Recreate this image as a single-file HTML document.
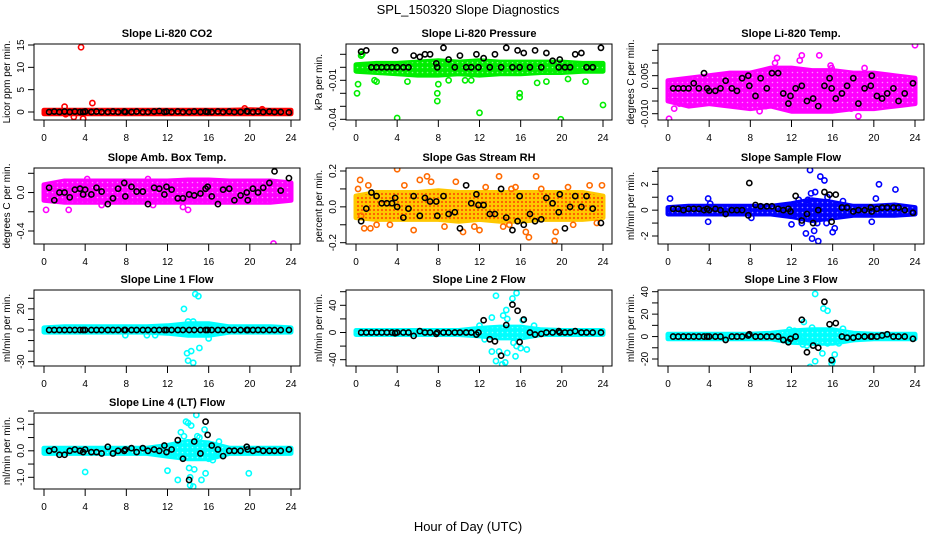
<!DOCTYPE html>
<html><head><meta charset="utf-8"><title>SPL_150320 Slope Diagnostics</title>
<style>html,body{margin:0;padding:0;background:#fff}svg{display:block}text{font-family:"Liberation Sans",Arial,sans-serif}</style>
</head><body>
<svg id="chart" width="936" height="540" viewBox="0 0 936 540" xmlns="http://www.w3.org/2000/svg">
<defs>
<pattern id="speck" width="5" height="5" patternUnits="userSpaceOnUse"><circle cx="2.5" cy="2.5" r="0.8" fill="#fff" fill-opacity="0.55"/></pattern>
<pattern id="speckRed" width="4" height="4" patternUnits="userSpaceOnUse"><circle cx="2" cy="2" r="1.1" fill="#ff2a00" fill-opacity="0.7"/></pattern>
</defs>
<rect width="936" height="540" fill="#fff"/>
<text x="468" y="14" font-size="13" text-anchor="middle">SPL_150320  Slope Diagnostics</text>
<text x="468" y="531" font-size="13" text-anchor="middle">Hour of Day (UTC)</text>
</svg>
<script>
const xTicks = [0,4,8,12,16,20,24];
const bandHours = [0,2,4,6,8,10,12,14,16,18,20,22,24];
const blackHours = [0.5,1.0,1.5,2.0,2.5,3.0,3.5,3.8,4.0,4.6,5.1,5.6,6.2,6.7,7.2,7.8,7.9,8.5,9.0,9.6,10.1,10.7,11.2,11.7,11.9,12.4,13.0,13.5,14.1,14.6,15.2,15.7,15.9,16.3,16.9,17.4,18.0,18.5,19.1,19.7,19.8,20.3,20.8,21.3,21.9,22.4,23.0,23.8];

const titles = ["Slope Li-820 CO2","Slope Li-820 Pressure","Slope Li-820 Temp.","Slope Amb. Box Temp.","Slope Gas Stream RH","Slope Sample Flow","Slope Line 1 Flow","Slope Line 2 Flow","Slope Line 3 Flow","Slope Line 4 (LT) Flow"];
const yLabels = ["Licor ppm per min.","kPa per min.","degrees C per min.","degrees C per min.","percent per min.","ml/min per min.","ml/min per min.","ml/min per min.","ml/min per min.","ml/min per min."];
const colors = ["#ff0000","#00ee00","#ff00ff","#ff00ff","#ffc800","#0000ff","#00ffff","#00ffff","#00ffff","#00ffff"];
const ptColors = ["#ff0000","#00ee00","#ff00ff","#ff00ff","#ff6a00","#0000ff","#00ffff","#00ffff","#00ffff","#00ffff"];

const yTicks = [[0,5,10,15],[-0.04,-0.03,-0.02,-0.01,0,0.01],[-0.01,-0.005,0,0.005,0.01,0.015],[-0.4,-0.2,0,0.2],[-0.2,-0.1,0,0.1,0.2],[-2,-1,0,1,2,3],[-30,-20,-10,0,10,20,30],[-40,-20,0,20,40,60],[-20,-10,0,10,20,30,40],[-1,-0.5,0,0.5,1,1.5]];
const yTickLabels = [["0","5","10","15"],["-0.04","","","-0.01","",""],["-0.010","","","0.005","",""],["-0.4","","0.0",""],["-0.2","","0.0","","0.2"],["-2","","0","","2",""],["-30","","","0","","20",""],["-40","","0","","40",""],["-20","","0","","20","","40"],["-1.0","","0.0","","1.0",""]];
const yRefVals = [[0,15],[-0.04,0.01],[-0.01,0.01],[-0.4,0.2],[-0.2,0.2],[-2,2],[-30,30],[-40,40],[-20,40],[-1,1]];

const bandLo = [
 [-0.4,-0.4,-0.4,-0.4,-0.4,-0.4,-0.4,-0.4,-0.4,-0.4,-0.4,-0.4,-0.4],
 [-0.003,-0.004,-0.005,-0.006,-0.006,-0.005,-0.006,-0.005,-0.005,-0.004,-0.004,-0.003,-0.003],
 [-0.005,-0.007,-0.006,-0.007,-0.008,-0.007,-0.009,-0.009,-0.009,-0.008,-0.008,-0.007,-0.006],
 [-0.08,-0.1,-0.1,-0.1,-0.1,-0.1,-0.1,-0.1,-0.1,-0.1,-0.1,-0.1,-0.08],
 [-0.06,-0.07,-0.07,-0.07,-0.07,-0.08,-0.07,-0.08,-0.08,-0.07,-0.07,-0.07,-0.06],
 [-0.3,-0.3,-0.3,-0.3,-0.3,-0.3,-0.5,-0.8,-0.6,-0.4,-0.4,-0.4,-0.3],
 [-2,-2,-2,-2,-2,-2,-3,-5,-5,-2,-2,-2,-2],
 [-3,-3,-3,-3,-3,-3,-5,-8,-8,-3,-3,-3,-3],
 [-2,-2,-2,-2,-2,-2,-5,-6,-6,-3,-2,-2,-2],
 [-0.1,-0.1,-0.1,-0.1,-0.1,-0.1,-0.2,-0.3,-0.3,-0.1,-0.1,-0.1,-0.1]];
const bandHi = [
 [0.4,0.4,0.4,0.4,0.4,0.4,0.4,0.4,0.4,0.4,0.5,0.4,0.4],
 [0.002,0.003,0.003,0.004,0.005,0.004,0.005,0.004,0.004,0.004,0.004,0.003,0.003],
 [0.003,0.004,0.005,0.006,0.006,0.008,0.008,0.007,0.007,0.006,0.006,0.005,0.004],
 [0.08,0.12,0.12,0.12,0.12,0.12,0.12,0.13,0.13,0.12,0.12,0.12,0.1],
 [0.06,0.08,0.08,0.08,0.09,0.08,0.08,0.08,0.08,0.08,0.08,0.08,0.06],
 [0.2,0.3,0.3,0.3,0.3,0.3,0.5,0.8,0.6,0.3,0.3,0.4,0.2],
 [2,3,3,3,3,3,4,6,6,3,3,3,2],
 [3,3,3,3,3,3,6,8,8,4,3,3,3],
 [2,2,2,2,2,3,5,6,6,3,2,2,2],
 [0.1,0.1,0.1,0.1,0.1,0.1,0.2,0.35,0.3,0.1,0.1,0.1,0.1]];

const colorPts = [
 [[3.6,14.5],[3.8,-1.5],[4.7,2],[2.9,-1.1],[2.0,1.2],[2.1,-0.5],[19.5,0.8],[21.2,0.6]],
 [[0.1,-0.02],[0.2,-0.013],[0.5,0.009],[0.6,0.01],[1.8,-0.01],[2.0,-0.011],[4.0,-0.039],[5.0,-0.011],[7.9,-0.02],[7.9,-0.026],[8.0,-0.013],[12.0,-0.035],[15.9,-0.02],[15.9,-0.023],[17.6,-0.012],[18.5,-0.011],[19.9,-0.04],[22.3,-0.011],[24.0,-0.029],[9.0,-0.01],[11.2,-0.01],[10.6,-0.01],[20.6,-0.009]],
 [[0.1,-0.012],[0.6,-0.008],[1.0,-0.005],[1.1,-0.006],[10.6,0.012],[13.0,0.013],[12.8,0.011],[14.7,0.013],[15.8,0.009],[18.5,-0.011],[19.1,0.008],[24.0,0.017],[7.4,-0.007],[8.9,-0.009],[9.5,-0.007],[12.3,-0.008],[17.8,-0.008],[10.4,0.01],[15.9,0.008],[19.0,-0.007]],
 [[0.2,-0.18],[2.4,-0.18],[14,-0.18],[22.3,-0.53],[10.6,-0.13],[5.6,-0.13],[13.5,-0.15],[4.2,0.14],[10.1,0.14]],
 [[0.2,0.1],[0.4,0.15],[0.5,-0.05],[0.8,-0.12],[1.4,-0.12],[1.2,0.12],[2.0,-0.1],[3.3,-0.1],[4.0,0.21],[4.7,0.12],[5.6,-0.13],[6.2,0.15],[6.9,0.17],[7.3,0.14],[8.6,-0.11],[9.7,0.14],[10.4,-0.14],[11.5,-0.11],[12.0,-0.13],[12.6,0.11],[13.9,0.17],[14.3,-0.11],[14.9,-0.1],[15.5,0.11],[16.5,-0.14],[16.8,-0.17],[17.5,0.17],[18.0,0.1],[19.3,-0.19],[19.4,-0.14],[20.6,0.11],[21.1,-0.1],[22.7,0.12],[23.4,-0.09],[23.9,0.12],[15.1,0.1]],
 [[0.2,0.9],[3.9,0.9],[3.9,-0.9],[4.1,0.5],[8.1,-0.6],[12.0,-1.1],[13.4,-1.8],[13.8,3.1],[14.0,-2.2],[14.2,-1.6],[14.6,-2.4],[14.5,-1.0],[14.8,2.6],[15.2,2.3],[15.4,-1.0],[13.9,1.3],[14.3,1.4],[13.0,-1.0],[15.5,1.0],[16.0,-1.7],[16.2,-1.4],[12.7,0.8],[17.0,0.7],[19.8,-0.9],[20.2,0.9],[20.5,2.0],[22.1,1.6],[13.6,0.8],[15.6,0.6]],
 [[13.6,20],[14.7,34],[15.0,32],[13.9,-22],[14.0,-29],[14.3,-20],[14.5,-31],[15.1,-17],[14.0,8],[14.5,8],[15.3,4],[16.0,-8],[10.0,-5],[10.8,-5],[7.9,-5],[12.3,3]],
 [[13.6,54],[14.3,25],[14.7,20],[14.6,33],[15.2,50],[15.6,58],[16.2,18],[13.2,-28],[13.6,-42],[13.9,-28],[14.2,-47],[14.5,-44],[14.7,-30],[15.5,-35],[16.0,-23],[16.6,-25],[12.0,10],[13.2,22],[15.6,-20],[16.3,-6],[17.3,10],[12.5,-10],[15.3,-15]],
 [[14.3,38],[15.1,25],[15.5,23],[14.0,8],[13.5,-8],[13.1,-7],[13.2,13],[13.8,-27],[14.3,-22],[15.0,-15],[15.5,-6],[16.0,-22],[16.2,-16],[16.6,-6],[17.0,7],[12.9,-3],[15.9,-24],[11.8,6],[12.3,5]],
 [[4.0,-0.8],[12.0,-0.75],[13.0,-1.1],[13.3,0.7],[13.8,1.1],[14.0,1.05],[14.3,0.95],[14.8,1.35],[14.9,0.55],[15.1,0.5],[13.6,0.55],[14.1,-0.65],[14.6,-0.7],[14.2,-1.3],[14.5,-1.35],[14.2,-1.0],[15.3,-1.1],[15.7,-0.85],[16.0,-0.3],[16.4,-0.35],[17.0,0.35],[19.9,-0.85],[12.5,0.2],[15.6,0.8]]];

const blackY = [
 [0,0.1,0,0.1,0,0.1,0,0,0.1,0,0.1,0,0,0.1,0,0.1,0,0,0.1,0,0,0.1,0.2,0,0.1,0,0.1,0,0,0.1,0,0.1,0,0,0.1,0,0.1,0,0,0.2,0.1,0,0.1,0,0.1,0,0,-0.1],
 [0.012,0.013,0,0,0,0,0,0.013,0,0,0,0.009,0.008,0.01,0.01,0.003,0,0.015,0.006,0,0.009,0,0,0.01,0,0.007,0,0.01,0,0.015,0,0.013,0,0.011,0,0.013,0,0.011,0.005,0,0.006,0,0,0.01,0.011,0,0,0.015],
 [0,0,0,0,0.002,0,0.006,0,-0.001,-0.001,0,0.003,0,-0.001,0.004,0.005,0.001,-0.003,0.004,0,0.006,0.006,-0.002,-0.006,-0.003,0,0.001,-0.005,-0.004,-0.007,0.001,0.004,0,-0.004,-0.002,0.001,0.004,-0.006,0,0.001,0.005,-0.003,-0.004,-0.002,0,-0.005,-0.002,0.002],
 [0.05,-0.08,0,0,-0.05,0.03,0.04,-0.02,0.03,-0.02,0.05,0.01,-0.12,-0.06,0.04,0.1,-0.04,0.06,0.01,0.01,-0.12,0.05,0.04,-0.02,0.06,0.03,-0.06,-0.06,-0.02,-0.03,-0.01,0.04,0.06,-0.04,-0.12,0.03,0.04,-0.08,-0.03,0,-0.08,0.04,0,0.05,0.1,0.22,0.02,0.15],
 [-0.08,-0.01,0.08,0.06,0.02,0.02,0.02,0.05,0,-0.06,-0.01,0.06,-0.05,0.05,0.03,0.03,-0.05,0.06,-0.04,-0.03,-0.12,0.12,0.02,0.07,0.01,0.01,-0.04,-0.04,0.1,-0.06,-0.13,-0.08,0.06,-0.1,-0.04,-0.08,-0.07,0.05,0.02,-0.03,0.07,-0.12,0,0.06,0,0.06,-0.01,-0.09],
 [0.1,0.1,0,0.1,0.1,0.1,0,0.1,0,0.1,0,-0.3,0,0,0,-0.4,2.1,0.4,0.3,0.3,0.3,0.1,0,0.1,-0.1,1.1,-0.8,-0.3,-1.0,0,1.4,1.2,-0.9,1.2,0.2,0.2,-0.1,0,0,0.2,-0.1,0.1,0.2,0.2,0.2,0.2,0,-0.2],
 [0,0,0,0,0,0,0,0,0,0,0,0,0,0,0,0,0,0,0,0,0,0,0,0,0,0,0,0,0,0,0,0,0,0,0,0,0,0,0,0,0,0,0,0,0,0,0,0],
 [0,0,0,0,0,0,0,-1,0,0,0,-5,2,0,0,-2,0,0,0,0,0,0,0,-3,0,18,-10,-13,-34,11,41,32,-14,19,0,-3,-2,0,0,2,0,0,0,2,0,0,0,0],
 [0,0,0,0,0,0,0,0,0,0,0,-3,0,0,0,1,2,0,0,0,0,0,-3,-5,-2,0,15,-14,-8,-10,31,11,-21,12,0,-1,-1,0,0,0,0,0,1,2,0,0,0,-2],
 [0,0.05,-0.15,-0.15,0,0.05,0,-0.05,0.05,-0.05,-0.05,-0.1,0.15,-0.1,0,0,0.05,0.1,-0.05,0.1,0,0.05,0,0.2,-0.05,0.05,0.4,-0.3,-1.1,0.35,-0.1,1.1,0.6,0.2,0.05,-0.2,0,0,0,0.15,0.05,0,0.05,0,0,0,0,0.05]];

const colLeft = [34,346,658];
const rowTop = [44,168,290,413];
const boxW = 266, boxH = 76;
const yRefPx = [[68,1],[75.3,10.3],[69.7,19],[63,5.3],[74.7,3],[68,16.3],[71.7,8.3],[69.7,15.3],[69,1.7],[64.3,11.3]];

const NS = "http://www.w3.org/2000/svg";
const svg = document.getElementById("chart");
function mk(tag, attrs, parent){ const e=document.createElementNS(NS,tag); for(const k in attrs) e.setAttribute(k,attrs[k]); (parent||svg).appendChild(e); return e; }

for (let p = 0; p < 10; p++) {
  const L = colLeft[p % 3], T = rowTop[Math.floor(p / 3)];
  const xS = h => L + 10 + h * (247 / 24);
  const [v1, v2] = yRefVals[p], [p1, p2] = yRefPx[p];
  const yS = v => T + p1 + (v - v1) * (p2 - p1) / (v2 - v1);
  const g = mk("g", {});
  
  
  const clipId = "c" + p;
  const cp = mk("clipPath", {id: clipId}, g);
  mk("rect", {x: L, y: T, width: boxW, height: boxH}, cp);
  const plot = mk("g", {"clip-path": "url(#" + clipId + ")"}, g);
  let d = "";
  bandHours.forEach((h, i) => { d += (i ? "L" : "M") + xS(h).toFixed(1) + "," + yS(bandHi[p][i]).toFixed(1); });
  for (let i = bandHours.length - 1; i >= 0; i--) d += "L" + xS(bandHours[i]).toFixed(1) + "," + yS(bandLo[p][i]).toFixed(1);
  d += "Z";
  const band = mk("path", {d: d, fill: colors[p], stroke: colors[p], "stroke-width": 5, "stroke-linejoin": "round"}, plot);
  
  
  const tex = mk("path", {d: d, fill: p === 4 ? "url(#speckRed)" : "url(#speck)"}, plot);
  
  
  colorPts[p].forEach(([h, v]) => {
    const c = mk("circle", {cx: xS(h), cy: yS(v), r: 2.6, fill: "none", stroke: ptColors[p], "stroke-width": 1.6}, plot);
    
    
  });
  blackHours.forEach((h, i) => {
    const c = mk("circle", {cx: xS(h), cy: yS(blackY[p][i]), r: 2.6, fill: "none", stroke: "#000", "stroke-width": 1.6}, plot);
    
    
  });
  const box = mk("rect", {x: L, y: T, width: boxW, height: boxH, fill: "none", stroke: "#000", "stroke-width": 1}, g);
  
  
  const t = mk("text", {x: L + boxW / 2, y: T - 7, "font-size": 11, "font-weight": "bold", "text-anchor": "middle"}, g);
  t.textContent = titles[p];
  
  
  const yl = mk("text", {x: 0, y: 0, "font-size": 10, "text-anchor": "middle", transform: "translate(" + (L - 24) + "," + (T + boxH / 2) + ") rotate(-90)"}, g);
  yl.textContent = yLabels[p];
  
  
  xTicks.forEach(h => {
    mk("line", {x1: xS(h), x2: xS(h), y1: T + boxH, y2: T + boxH + 7, stroke: "#000"}, g);
    const tl = mk("text", {x: xS(h), y: T + boxH + 21, "font-size": 10, "text-anchor": "middle"}, g);
    tl.textContent = String(h);
    
    
  });
  yTicks[p].forEach((v, i) => {
    const py = yS(v);
    mk("line", {x1: L - 6, x2: L, y1: py, y2: py, stroke: "#000"}, g);
    if (yTickLabels[p][i]) {
      const tl = mk("text", {x: 0, y: 0, "font-size": 10, "text-anchor": "middle", transform: "translate(" + (L - 10) + "," + py + ") rotate(-90)"}, g);
      tl.textContent = yTickLabels[p][i];
      
      
    }
  });
}
</script>
</body></html>
